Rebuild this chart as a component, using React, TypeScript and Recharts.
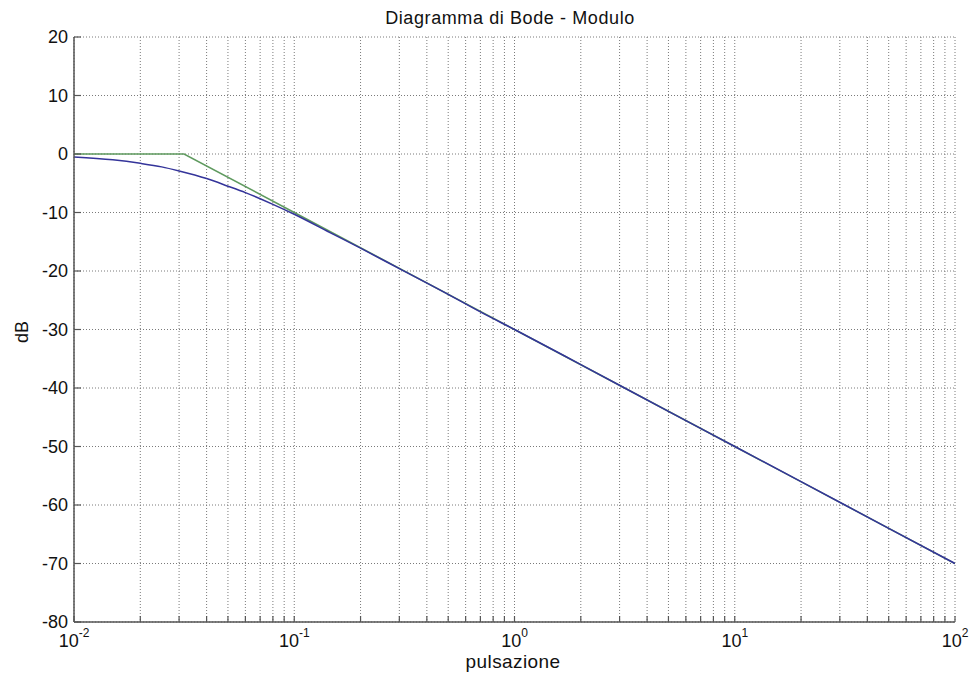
import { LineChart, Line, XAxis, YAxis, CartesianGrid } from 'recharts';

// pulsazione (rad/s) and modulo (dB) of the real response
const pulsazioneReale = [0.01, 0.015, 0.02, 0.025, 0.03, 0.04, 0.05, 0.06, 0.08, 0.1, 0.15, 0.2, 0.3, 0.5, 0.7, 1, 2, 5, 10, 20, 50, 100];
const moduloReale = [-0.5, -1.0, -1.6, -2.2, -2.9, -4.2, -5.5, -6.6, -8.6, -10.3, -13.7, -16.1, -19.6, -24.0, -27.0, -30.0, -36.0, -44.0, -50.0, -56.0, -64.0, -70.0];

// asymptotic approximation: flat, then -20 dB/decade
const pulsazioneAsintoto = [0.01, 0.0316, 0.1, 1, 10, 100];
const moduloAsintoto = [0, 0, -10, -30, -50, -70];

const decadi = [0.01, 0.1, 1, 10, 100];
const yTicks = [-80, -70, -60, -50, -40, -30, -20, -10, 0, 10, 20];

// every 1..9 multiple of each decade, for the log grid
const xTicks: number[] = [];
decadi.slice(0, -1).forEach((d) => {
  for (let k = 1; k < 10; k++) xTicks.push(+(d * k).toPrecision(3));
});
xTicks.push(100);

const realeData = pulsazioneReale.map((w, i) => ({ w, db: moduloReale[i] }));
const asintotoData = pulsazioneAsintoto.map((w, i) => ({ w, db: moduloAsintoto[i] }));

const FONT = '"Liberation Sans", Arial, Helvetica, sans-serif';
const AXIS = '#555';

function BottomTick({ x, y, payload }: any) {
  const v = payload.value as number;
  const exp = Math.round(Math.log10(v));
  const isDecade = decadi.some((d) => Math.abs(d - v) < 1e-9);
  return (
    <g>
      <line x1={x} x2={x} y1={y} y2={y - 6} stroke={AXIS} strokeWidth={1.2} />
      {isDecade && (
        <text x={x} y={y + 25} textAnchor="middle" fontFamily={FONT} fontSize={18} fill="#111">
          10
          <tspan dy={-10} fontSize={12}>{exp}</tspan>
        </text>
      )}
    </g>
  );
}

function TopTick({ x, y }: any) {
  return <line x1={x} x2={x} y1={y} y2={y + 6} stroke={AXIS} strokeWidth={1.2} />;
}

function LeftTick({ x, y, payload }: any) {
  return (
    <g>
      <line x1={x} x2={x + 7} y1={y} y2={y} stroke={AXIS} strokeWidth={1.2} />
      <text x={x - 6} y={y} dy={6} textAnchor="end" fontFamily={FONT} fontSize={18} fill="#111">
        {payload.value}
      </text>
    </g>
  );
}

function RightTick({ x, y }: any) {
  return <line x1={x} x2={x - 7} y1={y} y2={y} stroke={AXIS} strokeWidth={1.2} />;
}

export default function App() {
  return (
    <div style={{ position: 'absolute', left: 0, top: 0, width: 975, height: 679, background: '#fff' }}>
      <LineChart width={975} height={679} margin={{ top: 37, right: 20, bottom: 0, left: 0 }}>
        <CartesianGrid stroke="#7a7a7a" strokeDasharray="1 2" ticks={xTicks} />
        <XAxis
          dataKey="w"
          type="number"
          scale="log"
          domain={[0.01, 100]}
          ticks={xTicks}
          interval={0}
          allowDataOverflow
          height={57}
          tickSize={0}
          tickMargin={0}
          tick={<BottomTick />}
          axisLine={{ stroke: AXIS, strokeWidth: 1.5 }}
        />
        <XAxis
          xAxisId="top"
          orientation="top"
          dataKey="w"
          type="number"
          scale="log"
          domain={[0.01, 100]}
          ticks={xTicks}
          interval={0}
          allowDataOverflow
          height={0}
          tickSize={0}
          tickMargin={0}
          tick={<TopTick />}
          axisLine={{ stroke: AXIS, strokeWidth: 1.5 }}
        />
        <YAxis
          type="number"
          domain={[-80, 20]}
          ticks={yTicks}
          interval={0}
          width={74}
          tickSize={0}
          tickMargin={0}
          tick={<LeftTick />}
          axisLine={{ stroke: AXIS, strokeWidth: 1.5 }}
        />
        <YAxis
          yAxisId="right"
          orientation="right"
          type="number"
          domain={[-80, 20]}
          ticks={yTicks}
          interval={0}
          width={0}
          tickSize={0}
          tickMargin={0}
          tick={<RightTick />}
          axisLine={{ stroke: AXIS, strokeWidth: 1.5 }}
        />
        <Line
          data={asintotoData}
          dataKey="db"
          type="linear"
          stroke="#5f9a5f"
          strokeWidth={1.5}
          dot={false}
          isAnimationActive={false}
        />
        <Line
          data={realeData}
          dataKey="db"
          type="monotone"
          stroke="#34349a"
          strokeWidth={1.5}
          dot={false}
          isAnimationActive={false}
        />
        <text x={510} y={24} textAnchor="middle" fontFamily={FONT} fontSize={18} letterSpacing={0.6} fill="#111">
          Diagramma di Bode - Modulo
        </text>
        <text x={513} y={668} textAnchor="middle" fontFamily={FONT} fontSize={19} letterSpacing={0.4} fill="#111">
          pulsazione
        </text>
        <text
          x={28}
          y={332}
          textAnchor="middle"
          fontFamily={FONT}
          fontSize={18}
          fill="#111"
          transform="rotate(-90 28 332)"
        >
          dB
        </text>
      </LineChart>
    </div>
  );
}
